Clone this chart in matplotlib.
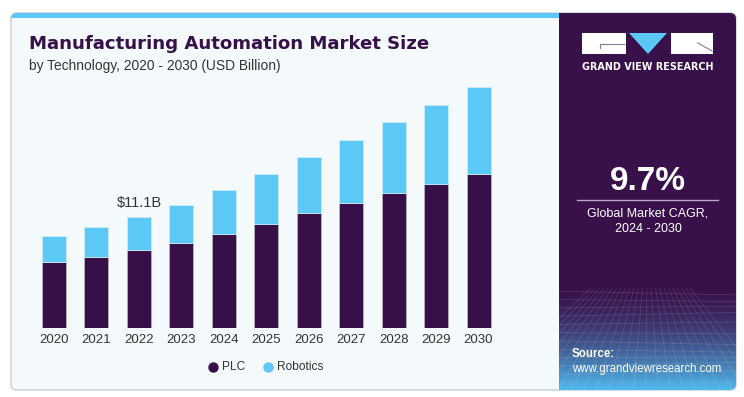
import matplotlib
matplotlib.use("Agg")
import matplotlib.pyplot as plt
from matplotlib.patches import FancyBboxPatch, Rectangle
import numpy as np

years = ["2020", "2021", "2022", "2023", "2024", "2025", "2026", "2027", "2028", "2029", "2030"]
plc = [6.6, 7.1, 7.75, 8.5, 9.4, 10.4, 11.45, 12.45, 13.45, 14.35, 15.35]
robotics = [2.6, 3.0, 3.35, 3.8, 4.35, 4.95, 5.6, 6.3, 7.05, 7.85, 8.65]
annot_index = 2
annot_text = "$11.1B"
title = "Manufacturing Automation Market Size"
subtitle = "by Technology, 2020 - 2030 (USD Billion)"
cagr = "9.7%"
cagr_label = "Global Market CAGR,\n2024 - 2030"

W, H = 744, 397
DARK = "#37104A"
LIGHT = "#5BC8F5"
CARD = "#F4F9FC"

fig = plt.figure(figsize=(W / 100, H / 100), dpi=100)
fig.patch.set_facecolor("white")

def fx(px):
    return px / W

def fy(py):
    return 1 - py / H

ROUND = 6 / W
ASPECT = W / H

# card background
card = FancyBboxPatch((fx(11), fy(390)), fx(736) - fx(11), fy(13) - fy(390),
                      boxstyle="round,pad=0,rounding_size=%f" % ROUND, mutation_aspect=ASPECT,
                      transform=fig.transFigure, facecolor=CARD,
                      edgecolor="#C9CED3", linewidth=1.0, zorder=-3)
fig.patches.append(card)
clipper = FancyBboxPatch((fx(11), fy(390)), fx(736) - fx(11), fy(13) - fy(390),
                         boxstyle="round,pad=0,rounding_size=%f" % ROUND, mutation_aspect=ASPECT,
                         transform=fig.transFigure, facecolor="none", edgecolor="none")
# top cyan stripe
stripe = Rectangle((fx(11), fy(17.5)), fx(559) - fx(11), fy(13) - fy(17.5),
                   transform=fig.transFigure, facecolor=LIGHT,
                   edgecolor="none", zorder=-2)
stripe.set_clip_path(clipper)
fig.patches.append(stripe)

# right panel with gradient
pax = fig.add_axes([fx(559), fy(390), fx(736) - fx(559), fy(13) - fy(390)])
pax.set_zorder(1)
pax.set_xlim(0, 1)
pax.set_ylim(0, 1)
pax.axis("off")
n = 200
grad = np.zeros((n, 1, 3))
top_c = np.array([0x38, 0x10, 0x4A]) / 255
bot_c = np.array([0x4F, 0xB8, 0xEC]) / 255
for i in range(n):
    t = i / (n - 1)  # 0 top, 1 bottom
    if t < 0.72:
        c = top_c
    else:
        u = (t - 0.72) / 0.28
        c = top_c * (1 - u ** 1.6) + bot_c * (u ** 1.6)
    grad[i, 0] = c
im = pax.imshow(grad, extent=[0, 1, 0, 1], aspect="auto", zorder=0)
im.set_clip_path(clipper)
# faint mesh texture near the bottom
for k in range(12):
    yy = 0.02 + k * 0.022
    ln, = pax.plot([0, 1], [yy, yy + 0.01 * np.sin(k)], color="white", alpha=0.12, lw=0.6, zorder=1)
    ln.set_clip_path(clipper)
for k in range(-6, 18):
    x0 = k * 0.07
    ln, = pax.plot([x0, 0.5 + (x0 - 0.5) * 0.35], [0, 0.27], color="white", alpha=0.12, lw=0.6, zorder=1)
    ln.set_clip_path(clipper)

# logo
def box(x0, y0, x1, y1, color):
    fig.patches.append(Rectangle((fx(x0), fy(y1)), fx(x1) - fx(x0), fy(y0) - fy(y1),
                                 transform=fig.transFigure, facecolor=color,
                                 edgecolor="none", zorder=5))
box(582, 33, 626, 54, "white")
box(671, 33, 713, 54, "white")
tri = plt.Polygon([[fx(629), fy(33)], [fx(667), fy(33)], [fx(648), fy(54)]],
                  closed=True, transform=fig.transFigure, facecolor=LIGHT,
                  edgecolor="none", zorder=5)
fig.patches.append(tri)
# small logo details
fig.add_artist(plt.Line2D([fx(600), fx(624)], [fy(44), fy(44)], color="#8C7A99", lw=0.8,
                          transform=fig.transFigure, zorder=6))
fig.add_artist(plt.Line2D([fx(600), fx(600)], [fy(44), fy(48)], color="#8C7A99", lw=0.8,
                          transform=fig.transFigure, zorder=6))
fig.add_artist(plt.Line2D([fx(698), fx(712)], [fy(43), fy(51)], color="#8C7A99", lw=0.8,
                          transform=fig.transFigure, zorder=6))
fig.text(fx(648), fy(67), "GRAND VIEW RESEARCH", color="white", fontsize=6.9,
         fontweight="bold", ha="center", va="center", family="DejaVu Sans", zorder=6)

fig.text(fx(648), fy(181), cagr, color="white", fontsize=24, fontweight="bold",
         ha="center", va="center", family="Liberation Sans", zorder=6)
fig.add_artist(plt.Line2D([fx(577), fx(718)], [fy(200), fy(200)], color="#B9A9C6",
                          lw=1.0, transform=fig.transFigure, zorder=6))
fig.text(fx(648), fy(221), cagr_label, color="white", fontsize=9.0,
         ha="center", va="center", linespacing=1.4, family="Liberation Sans", zorder=6)
fig.text(fx(572), fy(354), "Source:", color="white", fontsize=8.3, fontweight="bold",
         ha="left", va="center", family="Liberation Sans", zorder=6)
fig.text(fx(572), fy(369), "www.grandviewresearch.com", color="white", fontsize=8.3,
         ha="left", va="center", family="Liberation Sans", zorder=6)

# titles
fig.text(fx(29), fy(44), title, color=DARK, fontsize=13.1, fontweight="heavy",
         ha="left", va="center", family="DejaVu Sans")
fig.text(fx(29), fy(66), subtitle, color="#333333", fontsize=9.9,
         ha="left", va="center", family="Liberation Sans")

# chart axes
spacing = 42.45
x_first = 54.0
xl, xr = -0.7, 10.7
base_px = 328.0
ppb = 10.03
top_px = 80.0
ax_left = x_first + xl * spacing
ax_right = x_first + xr * spacing
ax = fig.add_axes([fx(ax_left), fy(base_px), fx(ax_right) - fx(ax_left), fy(top_px) - fy(base_px)])
ax.set_zorder(2)
ax.set_facecolor("none")
x = np.arange(len(years))
width = 24 / spacing
ax.bar(x, plc, width=width, color=DARK, edgecolor="#B8B0C2", linewidth=0.6, label="PLC", zorder=2)
ax.bar(x, robotics, width=width, bottom=plc, color=LIGHT, edgecolor="#CDEBFA",
       linewidth=0.6, label="Robotics", zorder=2)
ax.set_xlim(xl, xr)
ax.set_ylim(0, (base_px - top_px) / ppb)
for s in ax.spines.values():
    s.set_visible(False)
ax.set_yticks([])
ax.set_xticks(x)
ax.set_xticklabels(years, fontsize=9.5, color="#333333", family="Liberation Sans")
ax.tick_params(axis="x", length=0, pad=4)
total = plc[annot_index] + robotics[annot_index]
ax.text(annot_index, total + 1.35, annot_text, ha="center", va="center",
        fontsize=10.5, color="#333333", family="Liberation Sans")

# legend
fig.lines.append(plt.Line2D([fx(213)], [fy(367)], marker="o", markersize=6.5,
                            color=DARK, transform=fig.transFigure, linestyle="none"))
fig.text(fx(222), fy(367), "PLC", fontsize=8.6, color="#333333", ha="left", va="center",
         family="Liberation Sans")
fig.lines.append(plt.Line2D([fx(268)], [fy(367)], marker="o", markersize=6.5,
                            color=LIGHT, transform=fig.transFigure, linestyle="none"))
fig.text(fx(277), fy(367), "Robotics", fontsize=8.6, color="#333333", ha="left", va="center",
         family="Liberation Sans")

fig.savefig("out.png", dpi=100, facecolor="white")
